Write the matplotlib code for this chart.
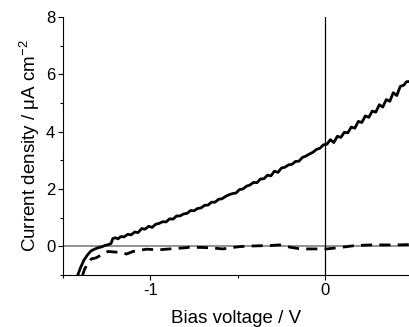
import matplotlib
matplotlib.use("Agg")
import matplotlib.pyplot as plt
from matplotlib.ticker import MultipleLocator

plt.rcParams['font.family'] = ['Liberation Sans', 'DejaVu Sans']
plt.rcParams['axes.unicode_minus'] = False

# solid curve
v_solid = [-1.420, -1.400, -1.380, -1.360, -1.340, -1.320, -1.300, -1.280, -1.260, -1.240,
           -1.225, -1.215, -1.200, -1.185, -1.170, -1.150, -1.130, -1.110, -1.090, -1.070,
           -1.050, -1.030, -1.010, -0.990, -0.970, -0.950, -0.930, -0.910, -0.890, -0.870,
           -0.850, -0.830, -0.810, -0.790, -0.770, -0.750, -0.730, -0.710, -0.690, -0.670,
           -0.650, -0.630, -0.610, -0.590, -0.570, -0.550, -0.530, -0.510, -0.490, -0.470,
           -0.450, -0.430, -0.410, -0.390, -0.370, -0.350, -0.330, -0.310, -0.290, -0.270,
           -0.250, -0.230, -0.210, -0.190, -0.170, -0.150, -0.130, -0.110, -0.090, -0.070,
           -0.050, -0.030, -0.010, 0.010, 0.030, 0.050, 0.070, 0.090, 0.110, 0.130,
           0.150, 0.170, 0.190, 0.210, 0.230, 0.250, 0.270, 0.290, 0.310, 0.330,
           0.350, 0.370, 0.390, 0.410, 0.430, 0.450, 0.465, 0.480]
j_solid = [-1.08, -0.75, -0.48, -0.30, -0.16, -0.10, -0.05, -0.02, 0.03, 0.06,
           0.10, 0.27, 0.30, 0.26, 0.34, 0.33, 0.42, 0.40, 0.50, 0.48,
           0.62, 0.60, 0.70, 0.66, 0.77, 0.80, 0.86, 0.85, 0.96, 0.95,
           1.06, 1.06, 1.13, 1.15, 1.25, 1.24, 1.32, 1.34, 1.43, 1.44,
           1.54, 1.54, 1.64, 1.66, 1.74, 1.80, 1.84, 1.86, 1.98, 2.00,
           2.10, 2.14, 2.23, 2.22, 2.35, 2.36, 2.48, 2.46, 2.62, 2.58,
           2.73, 2.76, 2.84, 2.86, 2.96, 2.97, 3.10, 3.15, 3.22, 3.28,
           3.38, 3.42, 3.54, 3.56, 3.72, 3.62, 3.84, 3.80, 3.98, 3.96,
           4.16, 4.12, 4.36, 4.32, 4.55, 4.50, 4.72, 4.68, 4.94, 4.86,
           5.12, 5.06, 5.36, 5.26, 5.58, 5.62, 5.74, 5.75]

# dashed curve
v_dash = [-1.390, -1.377, -1.360, -1.338, -1.310, -1.290, -1.243, -1.200, -1.166, -1.137,
          -1.100, -1.023, -0.950, -0.889, -0.800, -0.775, -0.700, -0.641, -0.585, -0.530,
          -0.488, -0.430, -0.373, -0.310, -0.258, -0.201, -0.150, -0.105, -0.050, 0.010,
          0.070, 0.124, 0.161, 0.220, 0.275, 0.340, 0.411, 0.480]
j_dash = [-1.05, -0.80, -0.62, -0.44, -0.40, -0.33, -0.18, -0.20, -0.21, -0.27,
          -0.18, -0.10, -0.12, -0.09, -0.05, -0.03, -0.04, -0.06, -0.09, -0.04,
          -0.01, 0.01, 0.02, 0.03, 0.05, -0.03, -0.08, -0.09, -0.09, -0.09,
          -0.05, -0.01, 0.02, 0.04, 0.05, 0.05, 0.05, 0.06]

fig = plt.figure(figsize=(4.09, 3.27), dpi=100)
ax = fig.add_axes([0.154, 0.159, 0.846, 0.789])

ax.axhline(0, color='#808080', lw=1.2, zorder=1)
ax.axvline(0, color='black', lw=0.9, zorder=1)

ax.plot(v_solid, j_solid, color='black', lw=2.0, zorder=3)
ax.plot(v_dash, j_dash, color='black', lw=2.0, linestyle=(0, (4, 2.6)), zorder=3)

ax.set_xlim(-1.5, 0.48)
ax.set_ylim(-1, 8)

ax.spines['top'].set_visible(False)
ax.spines['right'].set_visible(False)
ax.spines['left'].set_linewidth(0.8)
ax.spines['bottom'].set_linewidth(0.8)

ax.xaxis.set_major_locator(MultipleLocator(1))
ax.xaxis.set_minor_locator(MultipleLocator(0.5))
ax.set_yticks([0, 2, 4, 6, 8])
ax.yaxis.set_minor_locator(MultipleLocator(1))
ax.tick_params(which='major', direction='out', length=3.6, width=0.8, labelsize=12, pad=2)
ax.tick_params(which='minor', direction='out', length=2.2, width=0.8)

ax.set_xlabel('Bias voltage / V', fontsize=13.5, labelpad=9)
ax.set_ylabel('Current density / $\\mathregular{\\mu}$A cm$^{\\mathregular{-2}}$', fontsize=13.5, labelpad=3)

fig.savefig('out.png', dpi=100)
